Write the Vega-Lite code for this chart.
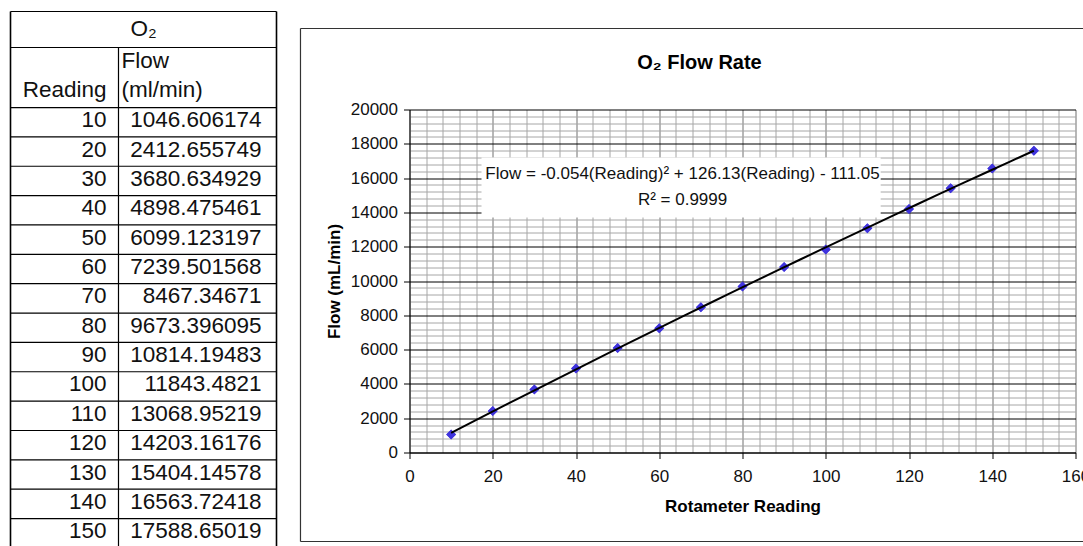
{
  "$schema": "https://vega.github.io/schema/vega-lite/v6.json",
  "padding": {"left": 9.5, "top": 10.5, "right": 0, "bottom": 0},
  "background": "white",
  "bounds": "flush",
  "spacing": 133,
  "config": {
    "view": {"stroke": null},
    "font": "Liberation Sans",
    "text": {"font": "Liberation Sans"}
  },
  "datasets": {
    "o2": [
      {"Reading": 10, "Flow": 1046.606174},
      {"Reading": 20, "Flow": 2412.655749},
      {"Reading": 30, "Flow": 3680.634929},
      {"Reading": 40, "Flow": 4898.475461},
      {"Reading": 50, "Flow": 6099.123197},
      {"Reading": 60, "Flow": 7239.501568},
      {"Reading": 70, "Flow": 8467.34671},
      {"Reading": 80, "Flow": 9673.396095},
      {"Reading": 90, "Flow": 10814.19483},
      {"Reading": 100, "Flow": 11843.4821},
      {"Reading": 110, "Flow": 13068.95219},
      {"Reading": 120, "Flow": 14203.16176},
      {"Reading": 130, "Flow": 15404.14578},
      {"Reading": 140, "Flow": 16563.72418},
      {"Reading": 150, "Flow": 17588.65019}
    ]
  },
  "hconcat": [
    {
      "width": 266,
      "height": 343,
      "layer": [
        {
          "data": {"values": [{}]},
          "mark": {"type": "rule", "color": "#000", "strokeWidth": 1.2},
          "encoding": {
            "x": {"datum": 0, "type": "quantitative", "scale": {"domain": [0, 1], "nice": false, "zero": false}, "axis": null},
            "x2": {"datum": 1},
            "y": {"datum": -27.71, "type": "quantitative", "scale": {"domain": [5.67, 122.5], "nice": false, "zero": false, "reverse": true}, "axis": null}
          }
        },
        {
          "data": {"values": [{}]},
          "mark": {"type": "rule", "color": "#000", "strokeWidth": 1.2},
          "encoding": {
            "x": {"datum": 0, "type": "quantitative", "scale": {"domain": [0, 1], "nice": false, "zero": false}, "axis": null},
            "x2": {"datum": 1},
            "y": {"datum": -15.45, "type": "quantitative", "scale": {"domain": [5.67, 122.5], "nice": false, "zero": false, "reverse": true}, "axis": null}
          }
        },
        {
          "data": {"values": [{}]},
          "mark": {"type": "rule", "color": "#000", "strokeWidth": 1.2},
          "encoding": {
            "x": {"datum": 0, "type": "quantitative", "scale": {"domain": [0, 1], "nice": false, "zero": false}, "axis": null},
            "x2": {"datum": 1},
            "y": {"datum": 5, "type": "quantitative", "scale": {"domain": [5.67, 122.5], "nice": false, "zero": false, "reverse": true}, "axis": null}
          }
        },
        {
          "data": {"name": "o2"},
          "transform": [{"filter": "datum.Reading < 150"}],
          "mark": {"type": "rule", "color": "#000", "strokeWidth": 1.2, "yOffset": 14.68},
          "encoding": {
            "x": {"datum": 0, "type": "quantitative", "scale": {"domain": [0, 1], "nice": false, "zero": false}, "axis": null},
            "x2": {"datum": 1},
            "y": {"field": "Reading", "type": "quantitative", "scale": {"domain": [5.67, 122.5], "nice": false, "zero": false, "reverse": true}, "axis": null}
          }
        },
        {
          "data": {"values": [{}]},
          "mark": {"type": "rule", "color": "#000", "strokeWidth": 1.6},
          "encoding": {
            "x": {"datum": 0, "type": "quantitative", "scale": {"domain": [0, 1], "nice": false, "zero": false}, "axis": null},
            "y": {"datum": -27.71, "type": "quantitative", "scale": {"domain": [5.67, 122.5], "nice": false, "zero": false, "reverse": true}, "axis": null},
            "y2": {"datum": 154.5}
          }
        },
        {
          "data": {"values": [{}]},
          "mark": {"type": "rule", "color": "#000", "strokeWidth": 1.6},
          "encoding": {
            "x": {"datum": 1, "type": "quantitative", "scale": {"domain": [0, 1], "nice": false, "zero": false}, "axis": null},
            "y": {"datum": -27.71, "type": "quantitative", "scale": {"domain": [5.67, 122.5], "nice": false, "zero": false, "reverse": true}, "axis": null},
            "y2": {"datum": 154.5}
          }
        },
        {
          "data": {"values": [{}]},
          "mark": {"type": "rule", "color": "#000", "strokeWidth": 1.2},
          "encoding": {
            "x": {"datum": 0.406, "type": "quantitative", "scale": {"domain": [0, 1], "nice": false, "zero": false}, "axis": null},
            "y": {"datum": -15.45, "type": "quantitative", "scale": {"domain": [5.67, 122.5], "nice": false, "zero": false, "reverse": true}, "axis": null},
            "y2": {"datum": 154.5}
          }
        },
        {
          "data": {"name": "o2"},
          "mark": {"type": "text", "align": "right", "baseline": "middle", "fontSize": 22.5, "color": "#111", "dy": -2},
          "encoding": {
            "x": {"datum": 0.361, "type": "quantitative", "scale": {"domain": [0, 1], "nice": false, "zero": false}, "axis": null},
            "y": {"field": "Reading", "type": "quantitative", "scale": {"domain": [5.67, 122.5], "nice": false, "zero": false, "reverse": true}, "axis": null},
            "text": {"field": "Reading", "type": "nominal"}
          }
        },
        {
          "data": {"name": "o2"},
          "mark": {"type": "text", "align": "right", "baseline": "middle", "fontSize": 22.5, "color": "#111", "dy": -2},
          "encoding": {
            "x": {"datum": 0.944, "type": "quantitative", "scale": {"domain": [0, 1], "nice": false, "zero": false}, "axis": null},
            "y": {"field": "Reading", "type": "quantitative", "scale": {"domain": [5.67, 122.5], "nice": false, "zero": false, "reverse": true}, "axis": null},
            "text": {"field": "Flow", "type": "nominal"}
          }
        },
        {
          "data": {"values": [{}]},
          "mark": {"type": "text", "align": "center", "baseline": "middle", "fontSize": 22.5, "color": "#111", "text": "O₂"},
          "encoding": {
            "x": {"datum": 0.5, "type": "quantitative", "scale": {"domain": [0, 1], "nice": false, "zero": false}, "axis": null},
            "y": {"datum": -21.75, "type": "quantitative", "scale": {"domain": [5.67, 122.5], "nice": false, "zero": false, "reverse": true}, "axis": null}
          }
        },
        {
          "data": {"values": [{}]},
          "mark": {"type": "text", "align": "left", "baseline": "middle", "fontSize": 22.5, "color": "#111", "text": "Flow"},
          "encoding": {
            "x": {"datum": 0.417, "type": "quantitative", "scale": {"domain": [0, 1], "nice": false, "zero": false}, "axis": null},
            "y": {"datum": -10.68, "type": "quantitative", "scale": {"domain": [5.67, 122.5], "nice": false, "zero": false, "reverse": true}, "axis": null}
          }
        },
        {
          "data": {"values": [{}]},
          "mark": {"type": "text", "align": "left", "baseline": "middle", "fontSize": 22.5, "color": "#111", "text": "(ml/min)"},
          "encoding": {
            "x": {"datum": 0.417, "type": "quantitative", "scale": {"domain": [0, 1], "nice": false, "zero": false}, "axis": null},
            "y": {"datum": -1.14, "type": "quantitative", "scale": {"domain": [5.67, 122.5], "nice": false, "zero": false, "reverse": true}, "axis": null}
          }
        },
        {
          "data": {"values": [{}]},
          "mark": {"type": "text", "align": "right", "baseline": "middle", "fontSize": 22.5, "color": "#111", "text": "Reading"},
          "encoding": {
            "x": {"datum": 0.361, "type": "quantitative", "scale": {"domain": [0, 1], "nice": false, "zero": false}, "axis": null},
            "y": {"datum": -1.14, "type": "quantitative", "scale": {"domain": [5.67, 122.5], "nice": false, "zero": false, "reverse": true}, "axis": null}
          }
        }
      ]
    },
    {
      "width": 666,
      "height": 343,
      "title": {"text": "O₂ Flow Rate", "font": "Liberation Sans", "fontSize": 20, "fontWeight": "bold", "color": "#000", "anchor": "middle", "dx": -43, "offset": -45},
      "layer": [
        {
          "data": {"name": "o2"},
          "mark": {"type": "point", "shape": "diamond", "filled": true, "size": 90, "color": "#3f33dd", "opacity": 1},
          "encoding": {
            "x": {
              "field": "Reading", "type": "quantitative",
              "scale": {"domain": [0, 160], "nice": false, "zero": false},
              "axis": {
                "title": "Rotameter Reading",
                "values": [0,4,8,12,16,20,24,28,32,36,40,44,48,52,56,60,64,68,72,76,80,84,88,92,96,100,104,108,112,116,120,124,128,132,136,140,144,148,152,156,160],
                "tickCount": 1000,
                "format": "d",
                "labelExpr": "datum.value % 20 === 0 ? datum.label : ''",
                "labelFlush": false,
                "labelOverlap": false,
                "grid": true,
                "gridColor": {"condition": {"test": "datum.value % 20 === 0", "value": "#707070"}, "value": "#a6a6a6"},
                "gridWidth": 1,
                "tickSize": 6,
                "tickColor": "#000",
                "tickOpacity": {"condition": {"test": "datum.value % 20 === 0", "value": 1}, "value": 0},
                "domainColor": "#000",
                "domainWidth": 1,
                "labelFont": "Liberation Sans",
                "labelFontSize": 17,
                "labelColor": "#111",
                "labelPadding": 10,
                "titleFont": "Liberation Sans",
                "titleFontSize": 17,
                "titleFontWeight": "bold",
                "titleColor": "#000",
                "titlePadding": 14
              }
            },
            "y": {
              "field": "Flow", "type": "quantitative",
              "scale": {"domain": [0, 20000], "nice": false, "zero": false},
              "axis": {
                "title": "Flow (mL/min)",
                "values": [0,400,800,1200,1600,2000,2400,2800,3200,3600,4000,4400,4800,5200,5600,6000,6400,6800,7200,7600,8000,8400,8800,9200,9600,10000,10400,10800,11200,11600,12000,12400,12800,13200,13600,14000,14400,14800,15200,15600,16000,16400,16800,17200,17600,18000,18400,18800,19200,19600,20000],
                "tickCount": 1000,
                "format": "d",
                "labelExpr": "datum.value % 2000 === 0 ? datum.label : ''",
                "labelOverlap": false,
                "grid": true,
                "gridColor": {"condition": {"test": "datum.value % 2000 === 0", "value": "#000"}, "value": "#a6a6a6"},
                "gridWidth": 1,
                "tickSize": 6,
                "tickColor": "#000",
                "tickOpacity": {"condition": {"test": "datum.value % 2000 === 0", "value": 1}, "value": 0},
                "domainColor": "#000",
                "domainWidth": 1,
                "labelFont": "Liberation Sans",
                "labelFontSize": 17,
                "labelColor": "#111",
                "labelPadding": 6,
                "titleFont": "Liberation Sans",
                "titleFontSize": 17,
                "titleFontWeight": "bold",
                "titleColor": "#000",
                "titlePadding": 7
              }
            }
          }
        },
        {
          "data": {"values": [{}]},
          "mark": {"type": "rule", "color": "#333", "strokeWidth": 1.2},
          "encoding": {
            "x": {"datum": -26.19, "type": "quantitative", "scale": {"domain": [0, 160], "nice": false, "zero": false}},
            "y": {"datum": 24723, "type": "quantitative", "scale": {"domain": [0, 20000], "nice": false, "zero": false}},
            "y2": {"datum": -5190}
          }
        },
        {
          "data": {"values": [{}]},
          "mark": {"type": "rule", "color": "#333", "strokeWidth": 1.2},
          "encoding": {
            "x": {"datum": -26.19, "type": "quantitative", "scale": {"domain": [0, 160], "nice": false, "zero": false}},
            "x2": {"datum": 162.5},
            "y": {"datum": 24723, "type": "quantitative", "scale": {"domain": [0, 20000], "nice": false, "zero": false}}
          }
        },
        {
          "data": {"values": [{}]},
          "mark": {"type": "rule", "color": "#333", "strokeWidth": 1.2},
          "encoding": {
            "x": {"datum": -26.19, "type": "quantitative", "scale": {"domain": [0, 160], "nice": false, "zero": false}},
            "x2": {"datum": 162.5},
            "y": {"datum": -5190, "type": "quantitative", "scale": {"domain": [0, 20000], "nice": false, "zero": false}}
          }
        },
        {
          "data": {"values": [{}]},
          "mark": {"type": "rect", "fill": "#fff", "stroke": null},
          "encoding": {
            "x": {"datum": 17.3, "type": "quantitative", "scale": {"domain": [0, 160], "nice": false, "zero": false}},
            "x2": {"datum": 113.2},
            "y": {"datum": 17201, "type": "quantitative", "scale": {"domain": [0, 20000], "nice": false, "zero": false}},
            "y2": {"datum": 13703}
          }
        },
        {
          "data": {"values": [{}]},
          "mark": {"type": "text", "align": "center", "baseline": "middle", "fontSize": 17, "color": "#111", "text": "Flow = -0.054(Reading)² + 126.13(Reading) - 111.05"},
          "encoding": {
            "x": {"datum": 65.6, "type": "quantitative", "scale": {"domain": [0, 160], "nice": false, "zero": false}},
            "y": {"datum": 16210, "type": "quantitative", "scale": {"domain": [0, 20000], "nice": false, "zero": false}}
          }
        },
        {
          "data": {"values": [{}]},
          "mark": {"type": "text", "align": "center", "baseline": "middle", "fontSize": 17, "color": "#111", "text": "R² = 0.9999"},
          "encoding": {
            "x": {"datum": 65.6, "type": "quantitative", "scale": {"domain": [0, 160], "nice": false, "zero": false}},
            "y": {"datum": 14752, "type": "quantitative", "scale": {"domain": [0, 20000], "nice": false, "zero": false}}
          }
        },
        {
          "data": {"name": "o2"},
          "mark": {"type": "point", "shape": "diamond", "filled": true, "size": 100, "color": "#3f33dd", "opacity": 1},
          "encoding": {
            "x": {"field": "Reading", "type": "quantitative", "scale": {"domain": [0, 160], "nice": false, "zero": false}},
            "y": {"field": "Flow", "type": "quantitative", "scale": {"domain": [0, 20000], "nice": false, "zero": false}}
          }
        },
        {
          "data": {"name": "o2"},
          "transform": [{"regression": "Flow", "on": "Reading", "method": "poly", "order": 2}],
          "mark": {"type": "line", "color": "#000", "strokeWidth": 2},
          "encoding": {
            "x": {"field": "Reading", "type": "quantitative", "scale": {"domain": [0, 160], "nice": false, "zero": false}},
            "y": {"field": "Flow", "type": "quantitative", "scale": {"domain": [0, 20000], "nice": false, "zero": false}}
          }
        }
      ]
    }
  ]
}
